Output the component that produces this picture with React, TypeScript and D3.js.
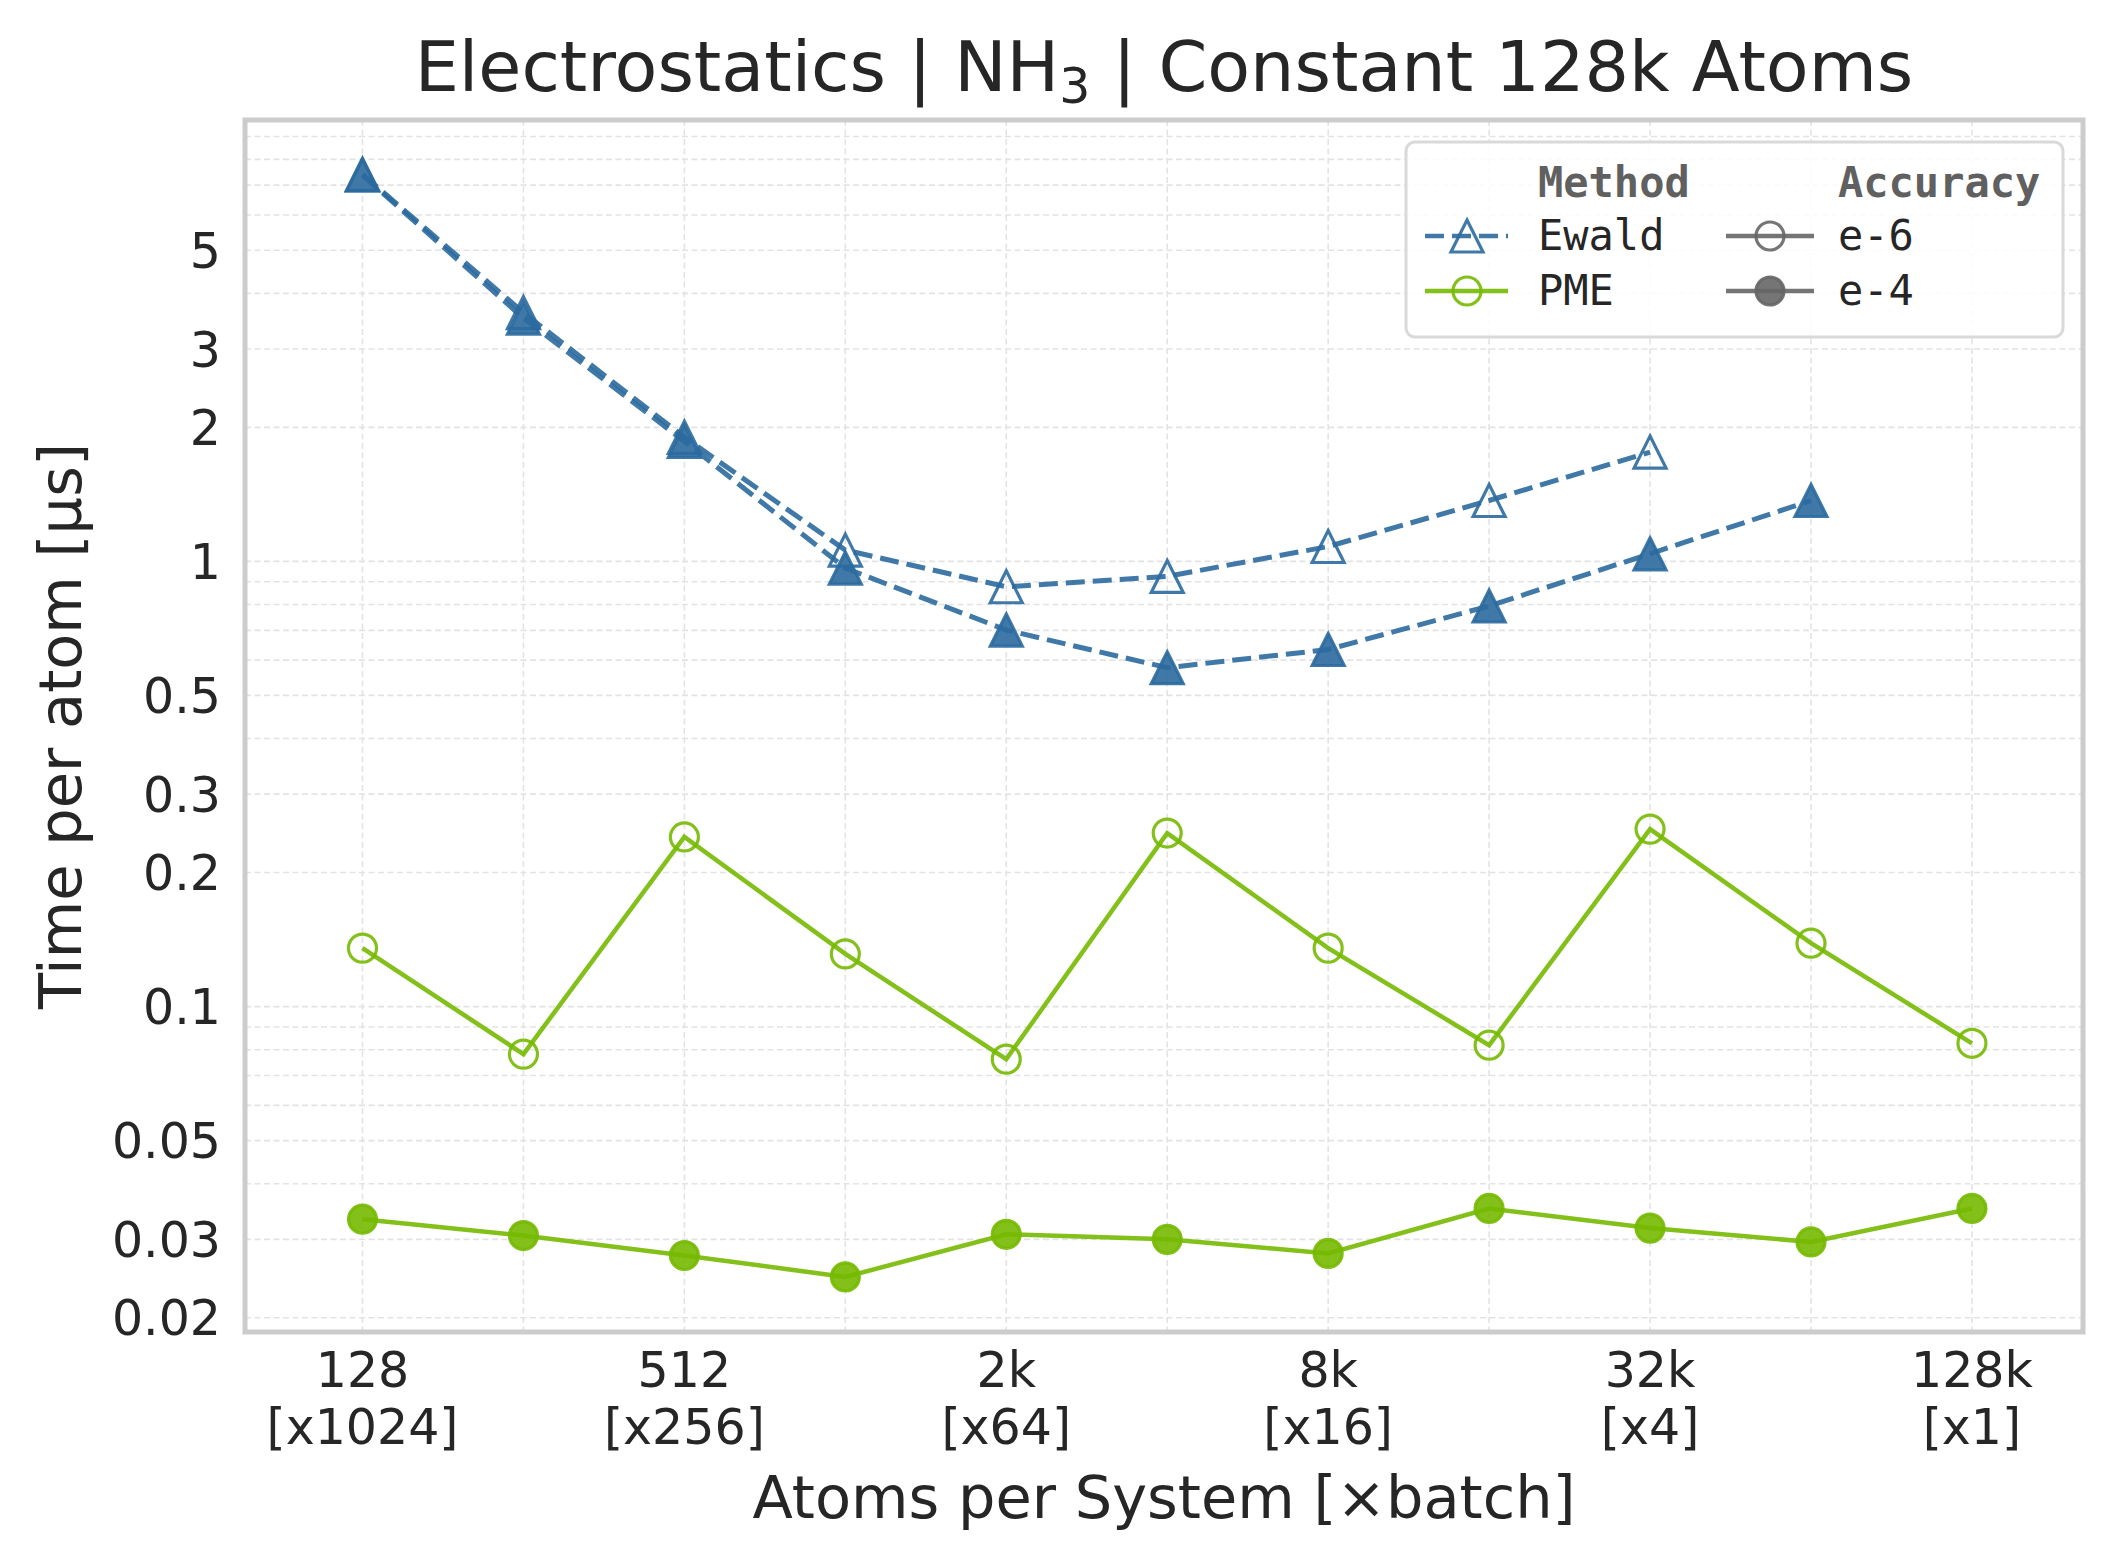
import * as d3 from "d3";
import React, { useEffect, useRef } from "react";

// x categories: atoms per system and batch multiplier
const atoms = ["128", "256", "512", "1k", "2k", "4k", "8k", "16k", "32k", "64k", "128k"];
const batches = ["[x1024]", "[x512]", "[x256]", "[x128]", "[x64]", "[x32]", "[x16]", "[x8]", "[x4]", "[x2]", "[x1]"];
const labeledIdx = [0, 2, 4, 6, 8, 10];

// time per atom [µs]
const ewaldE6 = [7.4, 3.62, 1.9, 1.06, 0.877, 0.925, 1.08, 1.37, 1.76];
const ewaldE4 = [7.37, 3.52, 1.86, 0.966, 0.701, 0.577, 0.634, 0.794, 1.04, 1.37];
const pmeE6 = [0.1353, 0.0782, 0.2405, 0.1313, 0.0762, 0.2453, 0.1353, 0.0819, 0.2504, 0.1388, 0.0827];
const pmeE4 = [0.0333, 0.0306, 0.0276, 0.0247, 0.0308, 0.03, 0.0279, 0.0352, 0.0318, 0.0296, 0.0352];

const yTicks = [0.02, 0.03, 0.05, 0.1, 0.2, 0.3, 0.5, 1, 2, 3, 5];
const yTickLabels = ["0.02", "0.03", "0.05", "0.1", "0.2", "0.3", "0.5", "1", "2", "3", "5"];

const BLUE = "#2b6a9e";
const GREEN = "#76b900";
const GRAY = "#666666";
const TEXT = "#262626";
const SANS = "'DejaVu Sans', sans-serif";
const MONO = "'DejaVu Sans Mono', monospace";

type Series = { color: string; dashed: boolean; marker: "tri" | "circle"; filled: boolean; values: number[] };

const series: Series[] = [
  { color: BLUE, dashed: true, marker: "tri", filled: false, values: ewaldE6 },
  { color: BLUE, dashed: true, marker: "tri", filled: true, values: ewaldE4 },
  { color: GREEN, dashed: false, marker: "circle", filled: false, values: pmeE6 },
  { color: GREEN, dashed: false, marker: "circle", filled: true, values: pmeE4 },
];

const triPath = (s: number) => `M0,${-s}L${s},${s}L${-s},${s}Z`;

export default function App() {
  const svgRef = useRef<SVGSVGElement | null>(null);

  useEffect(() => {
    const svg = d3.select(svgRef.current);
    svg.selectAll("*").remove();

    const width = 2119;
    const height = 1568;
    const margin = { top: 120, right: 36, bottom: 236, left: 245 };
    const left = margin.left;
    const right = width - margin.right;
    const top = margin.top;
    const bottom = height - margin.bottom;

    svg.attr("width", width).attr("height", height);
    svg.append("rect").attr("width", width).attr("height", height).attr("fill", "#fff");

    const x = d3.scaleLinear().domain([-0.73, 10.69]).range([left, right]);
    const y = d3.scaleLog().domain([0.01858, 9.805]).range([bottom, top]);

    // grid
    const grid = svg.append("g").attr("stroke", "#e3e3e3").attr("stroke-width", 1.6).attr("stroke-dasharray", "6,3.5");
    grid
      .selectAll(".vg")
      .data(d3.range(atoms.length))
      .enter()
      .append("line")
      .attr("x1", (d) => x(d))
      .attr("x2", (d) => x(d))
      .attr("y1", top)
      .attr("y2", bottom);
    grid
      .selectAll(".hg")
      .data(y.ticks())
      .enter()
      .append("line")
      .attr("x1", left)
      .attr("x2", right)
      .attr("y1", (d) => y(d))
      .attr("y2", (d) => y(d));

    // lines and markers
    series.forEach((s) => {
      const line = d3
        .line<number>()
        .x((_, i) => x(i))
        .y((d) => y(d));
      svg
        .append("path")
        .datum(s.values)
        .attr("fill", "none")
        .attr("stroke", s.color)
        .attr("stroke-opacity", 0.9)
        .attr("stroke-width", s.dashed ? 5 : 4.5)
        .attr("stroke-dasharray", s.dashed ? "19,8" : null)
        .attr("d", line);

      const g = svg.append("g");
      s.values.forEach((v, i) => {
        const m =
          s.marker === "tri"
            ? g.append("path").attr("d", triPath(16)).attr("transform", `translate(${x(i)},${y(v)})`)
            : g.append("circle").attr("cx", x(i)).attr("cy", y(v)).attr("r", 14);
        m.attr("fill", s.filled ? s.color : "none")
          .attr("fill-opacity", 0.9)
          .attr("stroke", s.color)
          .attr("stroke-opacity", 0.9)
          .attr("stroke-width", 3.2);
      });
    });

    // frame
    svg
      .append("rect")
      .attr("x", left)
      .attr("y", top)
      .attr("width", right - left)
      .attr("height", bottom - top)
      .attr("fill", "none")
      .attr("stroke", "#cccccc")
      .attr("stroke-width", 5);

    // y ticks
    svg
      .append("g")
      .selectAll("text")
      .data(yTicks)
      .enter()
      .append("text")
      .attr("x", 221)
      .attr("y", (d) => y(d))
      .attr("dy", "0.36em")
      .attr("text-anchor", "end")
      .attr("font-family", SANS)
      .attr("font-size", 49)
      .attr("fill", TEXT)
      .text((d, i) => yTickLabels[i]);

    // x ticks (two lines)
    const xt = svg.append("g").attr("font-family", SANS).attr("font-size", 49).attr("fill", TEXT).attr("text-anchor", "middle");
    labeledIdx.forEach((i) => {
      xt.append("text").attr("x", x(i)).attr("y", 1387).text(atoms[i]);
      xt.append("text").attr("x", x(i)).attr("y", 1444).text(batches[i]);
    });

    // axis labels
    svg
      .append("text")
      .attr("x", (left + right) / 2)
      .attr("y", 1518)
      .attr("text-anchor", "middle")
      .attr("font-family", SANS)
      .attr("font-size", 59)
      .attr("fill", TEXT)
      .text("Atoms per System [×batch]");
    svg
      .append("text")
      .attr("transform", `translate(81,${(top + bottom) / 2}) rotate(-90)`)
      .attr("text-anchor", "middle")
      .attr("font-family", SANS)
      .attr("font-size", 59)
      .attr("fill", TEXT)
      .text("Time per atom [µs]");

    // title
    const title = svg
      .append("text")
      .attr("x", (left + right) / 2)
      .attr("y", 91)
      .attr("text-anchor", "middle")
      .attr("font-family", SANS)
      .attr("font-size", 70)
      .attr("fill", TEXT);
    title.append("tspan").text("Electrostatics | NH");
    title.append("tspan").attr("font-size", 49).attr("dy", 12).text("3");
    title.append("tspan").attr("dy", -12).text(" | Constant 128k Atoms");

    // legend
    const lg = svg.append("g");
    lg.append("rect")
      .attr("x", 1406)
      .attr("y", 142)
      .attr("width", 657)
      .attr("height", 195)
      .attr("rx", 9)
      .attr("fill", "#fff")
      .attr("fill-opacity", 0.85)
      .attr("stroke", "#d9d9d9")
      .attr("stroke-width", 3);

    const header = (tx: number, label: string) =>
      lg.append("text")
        .attr("x", tx)
        .attr("y", 197)
        .attr("font-family", MONO)
        .attr("font-weight", "bold")
        .attr("font-size", 42)
        .attr("fill", "#606060")
        .text(label);
    header(1538, "Method");
    header(1838, "Accuracy");

    const entries = [
      { hx: 1425, hx2: 1508, mx: 1467, tx: 1538, row: 0, color: BLUE, dashed: true, marker: "tri", filled: false, label: "Ewald" },
      { hx: 1425, hx2: 1508, mx: 1467, tx: 1538, row: 1, color: GREEN, dashed: false, marker: "circle", filled: false, label: "PME" },
      { hx: 1726, hx2: 1814, mx: 1770, tx: 1838, row: 0, color: GRAY, dashed: false, marker: "circle", filled: false, label: "e-6" },
      { hx: 1726, hx2: 1814, mx: 1770, tx: 1838, row: 1, color: GRAY, dashed: false, marker: "circle", filled: true, label: "e-4" },
    ];
    entries.forEach((e) => {
      const cy = 236 + e.row * 55;
      lg.append("line")
        .attr("x1", e.hx)
        .attr("x2", e.hx2)
        .attr("y1", cy)
        .attr("y2", cy)
        .attr("stroke", e.color)
        .attr("stroke-opacity", 0.9)
        .attr("stroke-width", 4.7)
        .attr("stroke-dasharray", e.dashed ? "19,8" : null);
      const m =
        e.marker === "tri"
          ? lg.append("path").attr("d", triPath(16)).attr("transform", `translate(${e.mx},${cy})`)
          : lg.append("circle").attr("cx", e.mx).attr("cy", cy).attr("r", 14);
      m.attr("fill", e.filled ? e.color : "none")
        .attr("fill-opacity", 0.9)
        .attr("stroke", e.color)
        .attr("stroke-opacity", 0.9)
        .attr("stroke-width", 3.2);
      lg.append("text")
        .attr("x", e.tx)
        .attr("y", cy + 14)
        .attr("font-family", MONO)
        .attr("font-size", 42)
        .attr("fill", TEXT)
        .text(e.label);
    });
  }, []);

  return <svg ref={svgRef} style={{ position: "absolute", left: 0, top: 0 }} />;
}
